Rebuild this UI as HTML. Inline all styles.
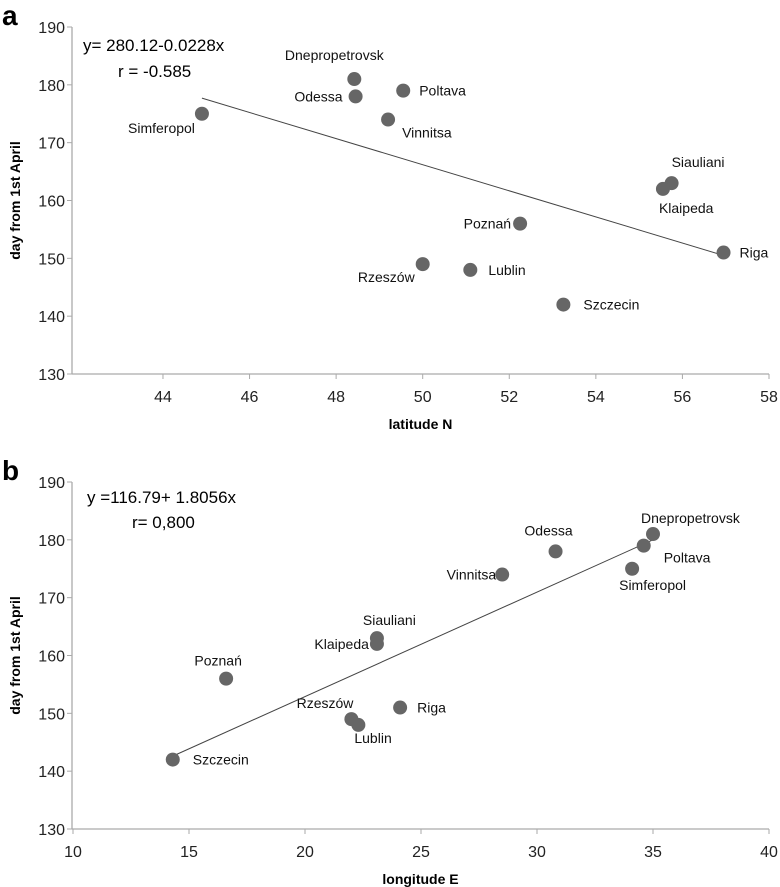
<!DOCTYPE html>
<html><head><meta charset="utf-8"><style>
body{margin:0;background:#fff}
svg{display:block;font-family:"Liberation Sans",sans-serif}
</style></head><body>
<svg id="c" width="780" height="887"></svg>
<script>
const citiesA=["Simferopol","Dnepropetrovsk","Odessa","Poltava","Vinnitsa","Siauliani","Klaipeda","Riga","Poznań","Rzeszów","Lublin","Szczecin"];
const latA=[44.9,48.42,48.45,49.55,49.2,55.75,55.55,56.95,52.25,50.0,51.1,53.25];
const dayA=[175,181,178,179,174,163,162,151,156,149,148,142];
const citiesB=["Szczecin","Poznań","Rzeszów","Lublin","Riga","Klaipeda","Siauliani","Vinnitsa","Odessa","Simferopol","Poltava","Dnepropetrovsk"];
const lonB=[14.3,16.6,22.0,22.3,24.1,23.1,23.1,28.5,30.8,34.1,34.6,35.0];
const dayB=[142,156,149,148,151,162,163,174,178,175,179,181];
const yTicks=[130,140,150,160,170,180,190];
const xTicksA=[44,46,48,50,52,54,56,58];
const xTicksB=[10,15,20,25,30,35,40];
const trendA=[[44.9,177.7],[56.95,150.5]];
const trendB=[[14.3,142.6],[35.0,180.0]];
const offA=[[-7,19,"end"],[-20,-19,"middle"],[-13,5,"end"],[16,5,"start"],[14,18,"start"],[0,-16,"start"],[-4,24,"start"],[16,5,"start"],[-9,5,"end"],[-8,18,"end"],[18,5,"start"],[20,5,"start"]];
const offB=[[20,5,"start"],[-8,-13,"middle"],[2,-11,"end"],[-4,18,"start"],[17,5,"start"],[-8,5,"end"],[-14,-13,"start"],[-6,5,"end"],[-7,-16,"middle"],[-13,21,"start"],[20,17,"start"],[-12,-11,"start"]];
const NS="http://www.w3.org/2000/svg";
const svg=document.getElementById('c');
function mk(t,a,txt){const e=document.createElementNS(NS,t);for(const k in a)e.setAttribute(k,a[k]);if(txt!=null)e.textContent=txt;svg.appendChild(e);return e;}
function panel(p){
 const X=v=>p.x0+(v-p.xmin)/(p.xmax-p.xmin)*(p.x1-p.x0);
 const Y=v=>p.y0-(v-130)/60*(p.y0-p.y1);
 let e=mk('text',{x:2,y:p.y1-2,'font-size':28,'font-weight':'bold'},p.letter);
 
 
 e=mk('line',{x1:p.yax,y1:p.y1,x2:p.yax,y2:p.y0,stroke:'#aaa','stroke-width':1.3});
 
 
 e=mk('line',{x1:p.yax,y1:p.y0,x2:p.x1,y2:p.y0,stroke:'#aaa','stroke-width':1.3});
 
 
 yTicks.forEach(t=>{
  const y=Y(t);
  let l=mk('line',{x1:p.yax-5,y1:y,x2:p.yax,y2:y,stroke:'#aaa'});
  
  
  let tx=mk('text',{x:p.yax-7,y:y+6,'font-size':16,'text-anchor':'end',fill:'#222'},t);
  
  
 });
 p.xt.forEach(t=>{
  const x=X(t);
  let l=mk('line',{x1:x,y1:p.y0,x2:x,y2:p.y0+5,stroke:'#aaa'});
  
  
  let tx=mk('text',{x:x,y:p.y0+28,'font-size':16,'text-anchor':'middle',fill:'#222'},t);
  
  
 });
 e=mk('text',{x:0,y:0,'font-size':14,'font-weight':'bold','text-anchor':'middle',transform:`translate(20,${(p.y0+p.y1)/2}) rotate(-90)`},'day from 1st April');
 
 
 e=mk('text',{x:(p.yax+p.x1)/2,y:p.y0+55,'font-size':14,'font-weight':'bold','text-anchor':'middle'},p.xtitle);
 
 
 e=mk('line',{x1:X(p.tr[0][0]),y1:Y(p.tr[0][1]),x2:X(p.tr[1][0]),y2:Y(p.tr[1][1]),stroke:'#444','stroke-width':1});
 
 
 p.xs.forEach((v,i)=>{
  const cx=X(v),cy=Y(p.ys[i]);
  let c=mk('circle',{cx:cx,cy:cy,r:7,fill:'#666'});
  
  
  const o=p.off[i];
  let t=mk('text',{x:cx+o[0],y:cy+o[1],'font-size':14,'text-anchor':o[2],fill:'#111'},p.names[i]);
  
  
 });
 e=mk('text',{x:p.eq[0],y:p.eq[1],'font-size':17},p.eq[2]);
 
 
 e=mk('text',{x:p.eq[3],y:p.eq[4],'font-size':17,'xml:space':'preserve'},p.eq[5]);
 
 
}
panel({letter:'a',x0:76.4,x1:769,xmin:42,xmax:58,yax:72,y0:374,y1:27,xt:xTicksA,xs:latA,ys:dayA,names:citiesA,off:offA,tr:trendA,xtitle:'latitude N',eq:[83,51,'y= 280.12-0.0228x',118,77,'r =   -0.585']});
panel({letter:'b',x0:73,x1:769,xmin:10,xmax:40,yax:72,y0:829,y1:482,xt:xTicksB,xs:lonB,ys:dayB,names:citiesB,off:offB,tr:trendB,xtitle:'longitude E',eq:[87,503,'y =116.79+ 1.8056x',132,528,'r= 0,800']});
</script>
</body></html>
